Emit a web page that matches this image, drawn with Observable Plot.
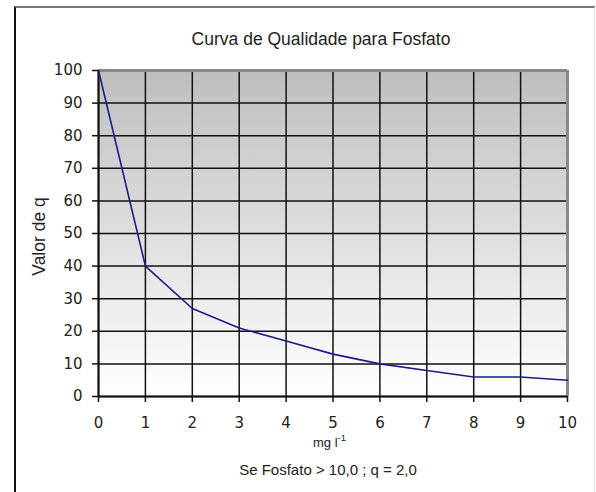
<!DOCTYPE html>
<html>
<head>
<meta charset="utf-8">
<script src="https://cdn.jsdelivr.net/npm/d3@7"></script>
<script src="https://cdn.jsdelivr.net/npm/@observablehq/plot@0.6"></script>
<style>
  html, body { margin: 0; padding: 0; background: #fff; }
  #wrap { position: relative; width: 596px; height: 492px; overflow: hidden; }
  #border { position: absolute; left: 14px; top: 6px; width: 578px; height: 500px;
    border-left: 2px solid #111; border-top: 2px solid #777; border-right: 1px solid #ddd; }
  #chart { position: absolute; left: 0; top: 0; }
</style>
</head>
<body>
<div id="wrap"><div id="border"></div><div id="chart"></div></div>
<script>
const fosfato = [0, 1, 2, 3, 4, 5, 6, 7, 8, 9, 10];
const valorQ = [100, 40, 27, 21, 17, 13, 10, 8, 6, 6, 5];
const xTicks = [0, 1, 2, 3, 4, 5, 6, 7, 8, 9, 10];
const yTicks = [0, 10, 20, 30, 40, 50, 60, 70, 80, 90, 100];
const title = "Curva de Qualidade para Fosfato";
const yLabel = "Valor de q";
const xLabelMain = "mg l";
const xLabelSup = "-1";
const caption = "Se Fosfato > 10,0 ; q = 2,0";

const data = fosfato.map((x, i) => ({x, q: valorQ[i]}));

const gradient = () => {
  const defs = d3.create("svg:defs");
  const g = defs.append("linearGradient").attr("id", "bg")
    .attr("x1", 0).attr("x2", 0).attr("y1", 0).attr("y2", 1);
  g.append("stop").attr("offset", "0%").attr("stop-color", "#bebebe");
  g.append("stop").attr("offset", "100%").attr("stop-color", "#ffffff");
  return defs.node();
};

const xLabelMark = (index, scales, values, dimensions) => {
  const {width, height, marginLeft, marginRight, marginBottom} = dimensions;
  const cx = (marginLeft + width - marginRight) / 2;
  const t = d3.create("svg:text")
    .attr("x", cx - 3)
    .attr("y", height - marginBottom + 51)
    .attr("text-anchor", "middle")
    .attr("font-family", "Liberation Sans, Arial, sans-serif")
    .attr("font-size", 13)
    .attr("fill", "#222");
  t.append("tspan").text(xLabelMain);
  t.append("tspan").attr("dy", -6).attr("font-size", 9.5).text(xLabelSup);
  return t.node();
};

const chart = Plot.plot({
  width: 596,
  height: 492,
  marginLeft: 98,
  marginRight: 29,
  marginTop: 70,
  marginBottom: 96,
  style: {background: "transparent", color: "#222"},
  x: {domain: [0, 10], ticks: xTicks},
  y: {domain: [0, 100], ticks: yTicks},
  marks: [
    gradient,
    Plot.frame({fill: "url(#bg)", stroke: null}),
    Plot.gridX(xTicks, {stroke: "#111", strokeOpacity: 1, strokeWidth: 1.5}),
    Plot.gridY(yTicks, {stroke: "#111", strokeOpacity: 1, strokeWidth: 1.5}),
    Plot.ruleY([100], {stroke: "#888", strokeWidth: 3}),
    Plot.ruleX([10], {stroke: "#888", strokeWidth: 3}),
    Plot.ruleY([0], {stroke: "#111", strokeWidth: 2}),
    Plot.ruleX([0], {stroke: "#111", strokeWidth: 2}),
    Plot.axisX(xTicks, {label: null, tickSize: 6, tickPadding: 15, fontSize: 15, fontFamily: "DejaVu Sans", stroke: "#111", strokeWidth: 1.5, fill: "#222"}),
    Plot.axisY(yTicks, {label: null, tickSize: 6, tickPadding: 10, fontSize: 15, fontFamily: "DejaVu Sans", stroke: "#111", strokeWidth: 1.5, fill: "#222"}),
    Plot.line(data, {x: "x", y: "q", stroke: "#1c1c8a", strokeWidth: 1.6}),
    Plot.text([title], {frameAnchor: "top", dx: -12, dy: -38, fontSize: 17.5, fontFamily: "Liberation Sans", fill: "#222"}),
    Plot.text([caption], {frameAnchor: "bottom", dx: -5, dy: 78, fontSize: 15, fontFamily: "Liberation Sans", fill: "#222"}),
    xLabelMark,
    Plot.text([yLabel], {frameAnchor: "left", textAnchor: "middle", dx: -59, dy: 3, rotate: -90, fontSize: 17.5, fontFamily: "Liberation Sans", fill: "#222"})
  ]
});
document.getElementById("chart").appendChild(chart);
</script>
</body>
</html>
